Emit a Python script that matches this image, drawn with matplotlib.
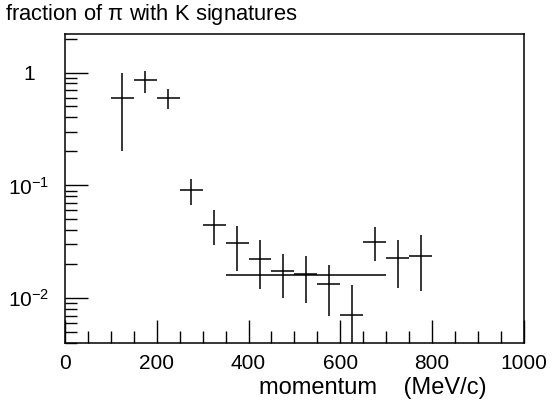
import matplotlib
matplotlib.use("Agg")
import matplotlib.pyplot as plt
import numpy as np

plt.rcParams['font.family'] = ['Liberation Sans', 'DejaVu Sans']
plt.rcParams['mathtext.fontset'] = 'custom'
plt.rcParams['mathtext.rm'] = 'Liberation Sans'
plt.rcParams['mathtext.default'] = 'regular'

# bin centres (MeV/c), bin half width 25
momentum = [125, 175, 225, 275, 325, 375, 425, 475, 525, 575, 625, 675, 725, 775]
fraction = [0.60, 0.86, 0.59, 0.091, 0.045, 0.031, 0.0224, 0.0174, 0.0165,
            0.0133, 0.0071, 0.0317, 0.0229, 0.0238]
err_up = [1.00, 1.04, 0.71, 0.114, 0.061, 0.0434, 0.0326, 0.0245, 0.0235,
          0.0195, 0.0132, 0.0428, 0.033, 0.036]
err_lo = [0.20, 0.66, 0.475, 0.0667, 0.0294, 0.0173, 0.0121, 0.0101, 0.0090,
          0.0070, 0.001, 0.0213, 0.0124, 0.0115]

# average over 350-700 MeV/c
avg_range = [350, 700]
avg_value = 0.0162

fig = plt.figure(figsize=(5.55, 4.08), dpi=100)
ax = fig.add_axes([0.117, 0.159, 0.827, 0.758])

y = np.array(fraction)
yerr = [y - np.array(err_lo), np.array(err_up) - y]
ax.errorbar(momentum, fraction, xerr=25, yerr=yerr, fmt='none',
            ecolor='black', elinewidth=1.1, capsize=0)
ax.hlines(avg_value, avg_range[0], avg_range[1], color='black', lw=1.1)

ax.set_yscale('log')
ax.set_xlim(0, 1000)
ax.set_ylim(0.004, 2.2)

ax.set_xticks([0, 200, 400, 600, 800, 1000])
ax.set_xticks(np.arange(0, 1001, 50), minor=True)
ax.set_yticks([0.01, 0.1, 1])
ax.set_yticklabels([r'$10^{-2}$', r'$10^{-1}$', '1'], ha='center')
ax.tick_params(which='both', direction='in', top=False, right=False,
               labelsize=15, width=1.0, pad=8)
ax.tick_params(which='major', length=16.5)
ax.tick_params(which='minor', length=8.5)
ax.tick_params(axis='y', which='minor', labelleft=False)
ax.tick_params(axis='y', which='major', pad=26)
for s in ax.spines.values():
    s.set_linewidth(1.1)

ax.set_xlabel('momentum    (MeV/c)', fontsize=17)
ax.xaxis.set_label_coords(0.67, -0.11)

fig.text(0.009, 0.965, r'fraction of $\pi$ with K signatures', fontsize=15.8,
         ha='left', va='center')

fig.savefig('out.png', dpi=100)
